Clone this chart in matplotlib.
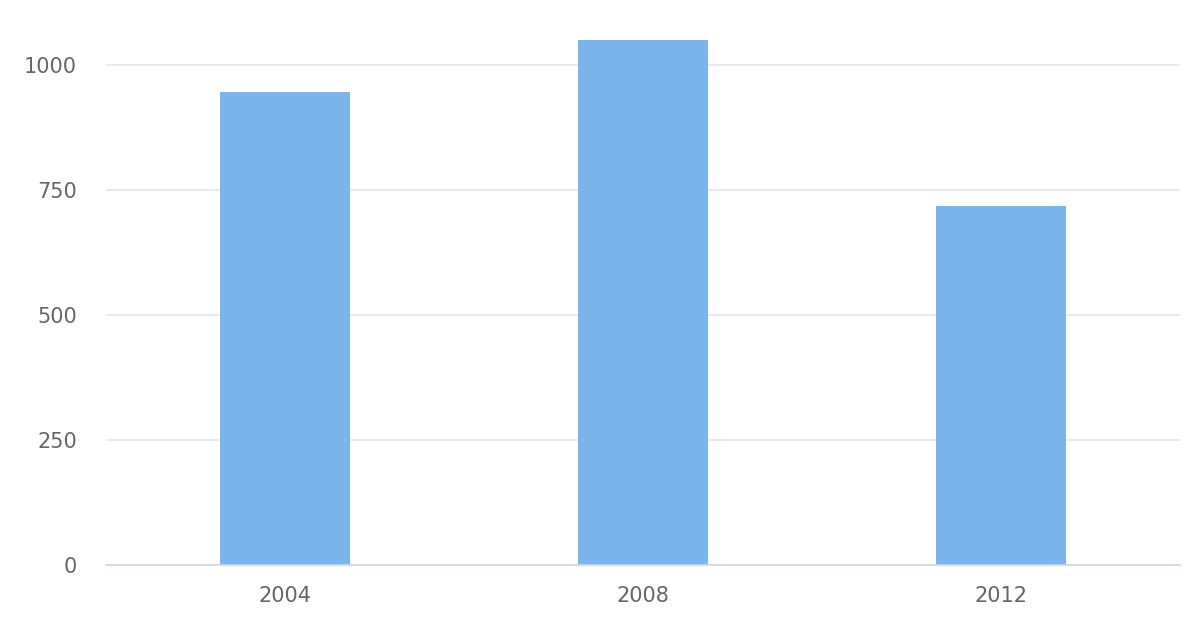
import matplotlib
matplotlib.use('Agg')
import matplotlib.pyplot as plt

# Chart data
years = ['2004', '2008', '2012']
values = [946, 1050, 718]

plt.rcParams['font.family'] = 'DejaVu Sans'

fig = plt.figure(figsize=(12, 6.4), dpi=100)
ax = fig.add_axes([106 / 1200, 75 / 640, 1074 / 1200, 550 / 640])

ax.bar(range(len(years)), values, width=0.363, color='#7cb5ec', zorder=3)

ax.set_xlim(-0.5, len(years) - 0.5)
ax.set_ylim(0, 1100)
ax.set_yticks([0, 250, 500, 750, 1000])
ax.set_xticks(range(len(years)))
ax.set_xticklabels(years)

ax.yaxis.grid(True, color='#e6e6e6', linewidth=1.2, zorder=0)
for side in ['top', 'right', 'left']:
    ax.spines[side].set_visible(False)
ax.spines['bottom'].set_color('#ccd6eb')
ax.spines['bottom'].set_linewidth(1.2)
ax.spines['bottom'].set_zorder(4)

ax.tick_params(axis='y', length=0, pad=21, labelsize=15, labelcolor='#666666')
ax.tick_params(axis='x', length=0, pad=15, labelsize=15, labelcolor='#666666')

fig.savefig('out.png', dpi=100, facecolor='white')
